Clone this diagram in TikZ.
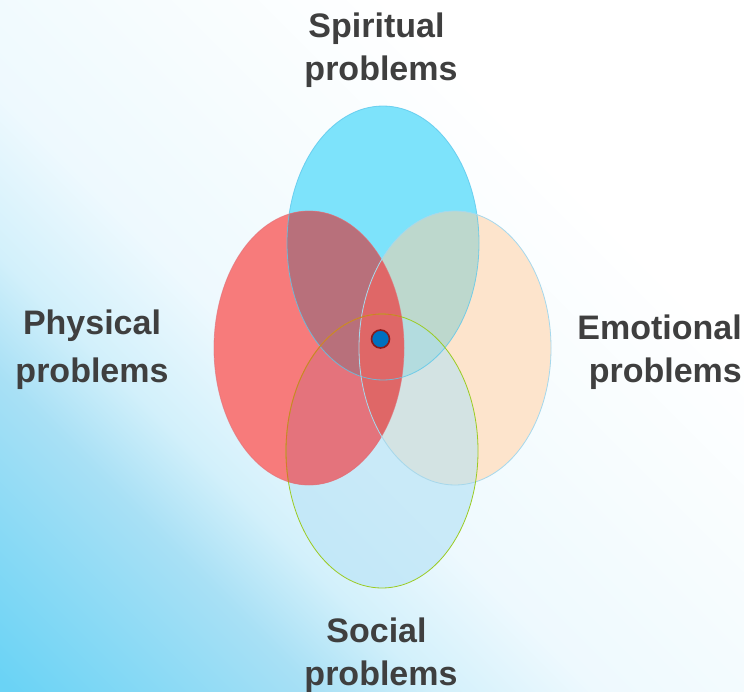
\documentclass[tikz,border=0pt]{standalone}
\usepackage{fontspec}
\setmainfont{Liberation Sans}
\usetikzlibrary{shapes.geometric}

% background wash
\definecolor{washA}{HTML}{6AD3F5}
\definecolor{washB}{HTML}{A8E0F5}
\definecolor{washC}{HTML}{D2F0FB}
\definecolor{washD}{HTML}{EEF9FE}
\definecolor{washE}{HTML}{F6FCFE}
% single-set fills
\definecolor{spiritFill}{HTML}{7DE3FB}
\definecolor{physFill}{HTML}{F77B7B}
\definecolor{emoFill}{HTML}{FDE4CC}
\definecolor{socFill}{HTML}{BDE5F7}
% overlap fills
\definecolor{spiritPhys}{HTML}{B8707B}
\definecolor{spiritEmo}{HTML}{BDD8CD}
\definecolor{spiritEmoSoc}{HTML}{B3DCDF}
\definecolor{physEmo}{HTML}{DF6767}
\definecolor{physSoc}{HTML}{E4737C}
\definecolor{emoSoc}{HTML}{D3E3E3}
% outlines and marks
\definecolor{spiritLine}{HTML}{5CC8EC}
\definecolor{physLine}{HTML}{E06F78}
\definecolor{emoLine}{HTML}{A6D8EC}
\definecolor{socLine}{HTML}{9BCB22}
\definecolor{socLineWarm}{HTML}{D8762B}
\definecolor{coreFill}{HTML}{0070C0}
\definecolor{coreRim}{HTML}{8B1A1A}
\definecolor{labelText}{HTML}{3F3F3F}

\pgfdeclarehorizontalshading{skywash}{100bp}{%
  color(0bp)=(washA); color(15bp)=(washA); color(30bp)=(washB);
  color(36bp)=(washC); color(44bp)=(washD); color(55bp)=(washE);
  color(68bp)=(white); color(100bp)=(white)}

\newcommand\spiritualpath{(383,243) ellipse [x radius=96pt, y radius=137pt]}
\newcommand\physicalpath{(309,348) ellipse [x radius=95pt, y radius=137pt]}
\newcommand\emotionalpath{(455,348) ellipse [x radius=96pt, y radius=137pt]}
\newcommand\socialpath{(382,451) ellipse [x radius=96pt, y radius=137pt]}

\begin{document}
\begin{tikzpicture}[x=1pt, y=-1pt,
  lbl/.style={text=labelText, align=center, inner sep=0pt,
    font=\fontsize{34}{43}\selectfont\bfseries},
  outline/.style={line width=0.8pt}]
\useasboundingbox (0,0) rectangle (744,691);
\shade[shading=skywash, shading angle=45] (0,0) rectangle (744,691);

% the four sets
\fill[socFill, opacity=0.75] \socialpath;
\fill[spiritFill] \spiritualpath;
\fill[physFill] \physicalpath;
\fill[emoFill] \emotionalpath;

% overlaps
\begin{scope} \clip \physicalpath; \fill[physSoc] \socialpath; \end{scope}
\begin{scope} \clip \emotionalpath; \fill[emoSoc] \socialpath; \end{scope}
\begin{scope} \clip \spiritualpath; \fill[spiritPhys] \physicalpath; \end{scope}
\begin{scope} \clip \spiritualpath; \fill[spiritEmo] \emotionalpath; \end{scope}
\begin{scope} \clip \spiritualpath; \clip \emotionalpath; \fill[spiritEmoSoc] \socialpath; \end{scope}
\begin{scope} \clip \physicalpath; \fill[physEmo] \emotionalpath; \end{scope}

% outlines
\draw[outline, spiritLine, draw opacity=0.8] \spiritualpath;
\draw[outline, physLine, draw opacity=0.6] \physicalpath;
\draw[outline, emoLine] \emotionalpath;
\draw[outline, socLine] \socialpath;
\begin{scope} \clip \physicalpath; \draw[outline, socLineWarm] \socialpath; \end{scope}

% common core
\node[circle, fill=coreFill, draw=coreRim, line width=1.6pt,
  minimum size=18pt, inner sep=0pt] (core) at (380.5,339) {};

% labels
\node[lbl] (spiritual) at (381,50) {Spiritual\kern9pt\\problems};
\node[lbl, font=\fontsize{34}{48}\selectfont\bfseries] (physical) at (92,350) {Physical\\problems};
\node[lbl, align=right, anchor=east] (emotional) at (742,352) {Emotional\\problems};
\node[lbl] (social) at (381,655) {Social\kern9pt\\problems};
\end{tikzpicture}
\end{document}
